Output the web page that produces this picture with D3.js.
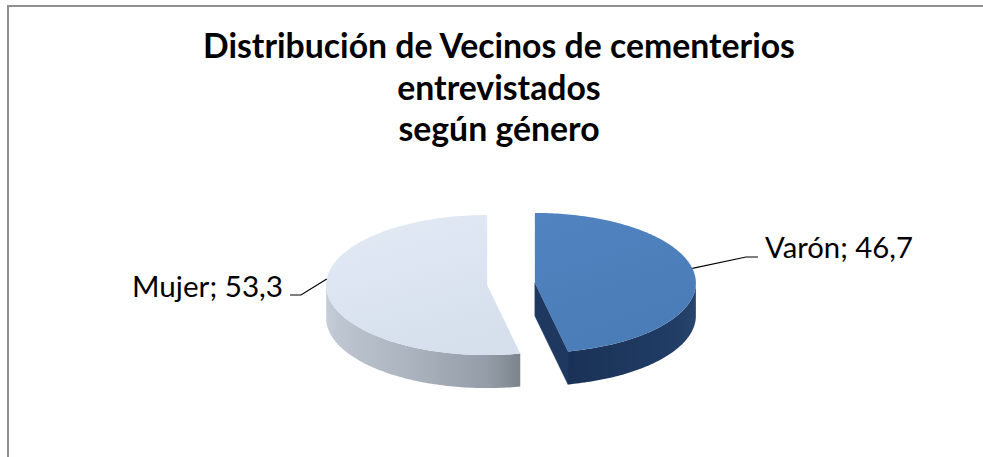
<!DOCTYPE html>
<html lang="es">
<head>
    <meta charset="UTF-8">
    <title>Distribución de Vecinos de cementerios</title>
    <style>
        body {
            margin: 0;
            background-color: #fff;
        }

        #chart {
            display: block;
        }

        .title {
            font-family: Lato, "Open Sans", sans-serif;
            font-weight: bold;
            fill: #000;
        }

        .label {
            font-family: Lato, "Open Sans", sans-serif;
            fill: #000;
        }
    </style>
</head>
<body>
    <svg id="chart"></svg>

    <script src="https://cdnjs.cloudflare.com/ajax/libs/d3/7.8.5/d3.min.js"></script>
    <script>
        // data
        const categories = ['Varón', 'Mujer'];
        const values = [46.7, 53.3];
        const valueLabels = ['46,7', '53,3'];
        const titleLines = [
            'Distribución de Vecinos de cementerios',
            'entrevistados',
            'según género'
        ];

        const W = 983, H = 457;
        const svg = d3.select('#chart')
            .attr('width', W)
            .attr('height', H);

        // chart frame (runs past the right/bottom edge like the source)
        svg.append('rect')
            .attr('x', 8)
            .attr('y', 6)
            .attr('width', W + 20)
            .attr('height', H + 20)
            .attr('fill', '#fff')
            .attr('stroke', '#8f8f8f')
            .attr('stroke-width', 2);

        // fit a text element to a target width
        function fitWidth (sel, target) {
            let size = parseFloat(sel.attr('font-size'));
            let len = sel.node().getComputedTextLength();
            sel.attr('font-size', (size * target / len).toFixed(2));
        }

        // title
        let titleBase = [58, 100, 141];
        let titleText = svg.selectAll('text.title')
            .data(titleLines)
            .enter()
            .append('text')
            .attr('class', 'title')
            .attr('x', 499)
            .attr('y', (d, i) => titleBase[i])
            .attr('text-anchor', 'middle')
            .attr('font-size', 28)
            .text(d => d);
        fitWidth(d3.select(titleText.nodes()[0]), 592);
        titleText.attr('font-size', d3.select(titleText.nodes()[0]).attr('font-size'));

        // 3d pie geometry
        const cx0 = 511, cy0 = 284;
        const rx = 161, ry = 70, depth = 33, explode = 24;
        const deg = 180 / Math.PI;

        const pie = d3.pie().sort(null).value(d => d)
            .startAngle(0).endAngle(2 * Math.PI);
        const arcs = pie(values);

        const topColors = [['#5083bf', '#4a7cb8'], ['#e2eaf5', '#d6e0ed']];
        const wallColor = [
            d3.scaleLinear().domain([90, 130, 168]).range(['#27466f', '#203b63', '#1a3156']).clamp(true),
            d3.scaleLinear().domain([168, 180, 215, 270]).range(['#7b848d', '#959ea8', '#b0b9c3', '#c8d1db']).clamp(true)
        ];
        const cutColor = ['#1e3860', '#8d96a0'];

        const defs = svg.append('defs');
        topColors.forEach((c, i) => {
            let grad = defs.append('linearGradient')
                .attr('id', 'top' + i)
                .attr('x1', 0).attr('y1', 0)
                .attr('x2', 0.4).attr('y2', 1);
            grad.append('stop').attr('offset', '0%').attr('stop-color', c[0]);
            grad.append('stop').attr('offset', '100%').attr('stop-color', c[1]);
        });

        function pt (c, th, r = 1, dy = 0) {
            return [c[0] + rx * r * Math.sin(th), c[1] - ry * r * Math.cos(th) + dy];
        }

        function angleSteps (a0, a1) {
            let s = d3.range(a0, a1, Math.PI / 180);
            s.push(a1);
            return s;
        }

        const line = d3.line();
        const anchors = [];

        arcs.forEach((a, i) => {
            let mid = (a.startAngle + a.endAngle) / 2;
            let c = [cx0 + explode * Math.sin(mid), cy0 - explode * Math.cos(mid) * ry / rx];
            let g = svg.append('g').attr('class', 'slice');

            // front wall: part of the rim facing the viewer
            let w0 = Math.max(a.startAngle, Math.PI / 2);
            let w1 = Math.min(a.endAngle, 3 * Math.PI / 2);
            if (w1 > w0) {
                let rim = angleSteps(w0, w1);
                let xs = rim.map(t => pt(c, t)[0]);
                let xMin = d3.min(xs), xMax = d3.max(xs);
                let grad = defs.append('linearGradient')
                    .attr('id', 'wall' + i)
                    .attr('gradientUnits', 'userSpaceOnUse')
                    .attr('x1', xMin).attr('y1', 0)
                    .attr('x2', xMax).attr('y2', 0);
                let samples = rim.filter((t, k) => k % 4 === 0 || k === rim.length - 1);
                samples
                    .map(t => [(pt(c, t)[0] - xMin) / (xMax - xMin), wallColor[i](t * deg)])
                    .sort((p, q) => p[0] - q[0])
                    .forEach(s => grad.append('stop').attr('offset', s[0]).attr('stop-color', s[1]));
                let pts = rim.map(t => pt(c, t))
                    .concat(rim.slice().reverse().map(t => pt(c, t, 1, depth)));
                g.append('path')
                    .attr('d', line(pts) + 'Z')
                    .attr('fill', 'url(#wall' + i + ')');
            }

            // cut faces that turn towards the viewer
            [[a.startAngle, a.startAngle - Math.PI / 2], [a.endAngle, a.endAngle + Math.PI / 2]].forEach(f => {
                if (Math.cos(f[1]) > -0.01) return;
                g.append('path')
                    .attr('d', line([c, pt(c, f[0]), pt(c, f[0], 1, depth), [c[0], c[1] + depth]]) + 'Z')
                    .attr('fill', cutColor[i])
                    .attr('stroke', cutColor[i])
                    .attr('stroke-width', 0.5);
            });

            // top face
            let topPts = [c].concat(angleSteps(a.startAngle, a.endAngle).map(t => pt(c, t)));
            g.append('path')
                .attr('d', line(topPts) + 'Z')
                .attr('fill', 'url(#top' + i + ')');

            anchors.push(c);
        });

        // data labels with leader lines
        const labelAngle = [78 / deg, 275 / deg];
        const labelLines = [
            p => [p, [746, 257], [758, 257]],
            p => [p, [301, 295], [290, 295]]
        ];
        const labelPos = [[765, 258, 'start', 148], [283, 297, 'end', 151]];

        categories.forEach((cat, i) => {
            let p = pt(anchors[i], labelAngle[i]);
            svg.append('path')
                .attr('d', line(labelLines[i](p)))
                .attr('fill', 'none')
                .attr('stroke', '#000')
                .attr('stroke-width', 1.2);
            let t = svg.append('text')
                .attr('class', 'label')
                .attr('x', labelPos[i][0])
                .attr('y', labelPos[i][1])
                .attr('text-anchor', labelPos[i][2])
                .attr('font-size', 24)
                .text(cat + '; ' + valueLabels[i]);
            fitWidth(t, labelPos[i][3]);
        });
    </script>
</body>
</html>
